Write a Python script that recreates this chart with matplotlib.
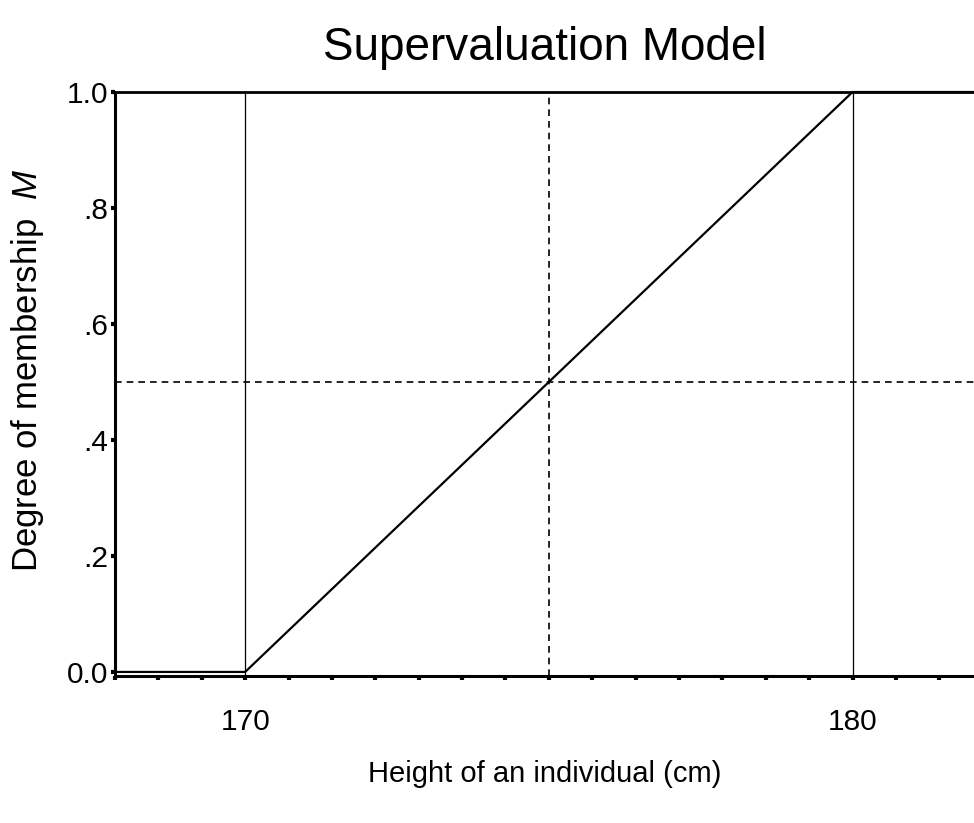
import matplotlib
matplotlib.use("Agg")
import matplotlib.pyplot as plt

plt.rcParams['font.family'] = ['Liberation Sans', 'DejaVu Sans']
plt.rcParams['mathtext.fontset'] = 'custom'
plt.rcParams['mathtext.it'] = 'Liberation Sans:italic'
plt.rcParams['mathtext.rm'] = 'Liberation Sans'

# Data
heights = [167.857, 170, 180, 182]
membership = [0, 0, 1, 1]
boundaries = [170, 180]
midpoint_x = 175
midpoint_y = 0.5
x_labels = {170: "170", 180: "180"}
y_ticks = [0.0, 0.2, 0.4, 0.6, 0.8, 1.0]
y_labels = ["0.0", ".2", ".4", ".6", ".8", "1.0"]

W, H = 974, 823
fig = plt.figure(figsize=(W / 100, H / 100), dpi=100)
ax = fig.add_axes([115 / W, 1 - 676 / H, 1 - 115 / W, (676 - 92) / H])

ax.plot(heights, membership, color='black', lw=1.6, clip_on=False, zorder=3)
for b in boundaries:
    ax.axvline(b, color='black', lw=0.9)
ax.axvline(midpoint_x, color='black', lw=1.2, ls=(0, (4, 3)))
ax.axhline(midpoint_y, color='black', lw=1.2, ls=(0, (4, 3)))
ax.axhline(1.0, color='black', lw=2.0, clip_on=False)

ax.set_xlim(167.857, 182.0)
ax.set_ylim(-0.007, 1.0)

step = 10 / 14
xt = [170 + k * step for k in range(-3, 17)]
ax.set_xticks(xt)
ax.set_xticklabels([x_labels.get(int(round(t)), "") if abs(t - round(t)) < 1e-6 else "" for t in xt],
                   fontsize=21.5)
ax.set_yticks(y_ticks)
ax.set_yticklabels(y_labels, fontsize=21.5)

ax.tick_params(axis='x', direction='out', length=3, width=3, pad=20)
ax.tick_params(axis='y', direction='out', length=3, width=3, pad=2)

for s in ['top', 'right']:
    ax.spines[s].set_visible(False)
ax.spines['left'].set_linewidth(2.2)
ax.spines['bottom'].set_linewidth(2.2)

fig.text(545 / W, 1 - 782 / H, "Height of an individual (cm)", ha='center', va='baseline',
         fontsize=21)
fig.text(37 / W, 1 - 370 / H, "Degree of membership  $\\mathit{M}$", ha='center', va='baseline',
         rotation=90, rotation_mode='anchor', fontsize=25)
fig.text(545 / W, 1 - 60 / H, "Supervaluation Model", ha='center', va='baseline', fontsize=33)

fig.savefig("out.png", dpi=100)
